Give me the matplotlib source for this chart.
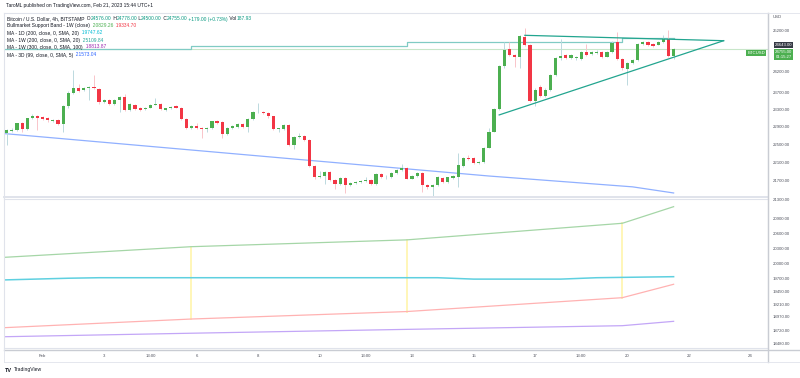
import numpy as np
import pandas as pd
import matplotlib
matplotlib.use('Agg')
import matplotlib.pyplot as plt
from matplotlib.transforms import blended_transform_factory
from matplotlib.ticker import NullLocator

plt.rcParams['font.family'] = ['Liberation Sans', 'DejaVu Sans']

# BTCUSD (Bitstamp) 4h candles, times in UTC+1
start = '2023-01-30 21:00'
opens = [22770, 22810, 22843, 22985, 22850, 23100, 23160, 23125, 23110, 23040,
         23066, 22975, 23388, 23700, 23820, 23770, 23800, 23830, 23790, 23475,
         23528, 23435, 23520, 23600, 23295, 23411, 23340, 23318, 23350, 23411,
         23430, 23295, 23335, 23380, 23350, 23090, 22890, 22930, 22890, 22870,
         22880, 23040, 23020, 22748, 22880, 22910, 22975, 22910, 23080, 23240,
         23258, 23230, 23145, 22850, 22860, 22953, 22501, 22670, 22690, 22613,
         22025, 21795, 21820, 21908, 21728, 21642, 21765, 21620, 21670, 21685,
         21700, 21728, 21642, 21857, 21785, 21795, 21880, 21945, 21995, 21760,
         21810, 21886, 21620, 21570, 21610, 21771, 21692, 21771, 21800, 22040,
         22215, 22200, 22090, 22110, 22435, 22800, 23310, 24330, 24745, 24605,
         24565, 25060, 24850, 23505, 23835, 23622, 23775, 24121, 24520, 24615,
         24525, 24520, 24510, 24675, 24625, 24650, 24680, 24565, 24675, 24935,
         24500, 24265, 24410, 24484, 24876, 24915, 24870, 24860, 24930, 24995,
         24576]
highs = [22850, 22880, 23000, 23020, 23120, 23210, 23190, 23150, 23130, 23090,
         23090, 23420, 23730, 24241, 23900, 23830, 23850, 24121, 23810, 23560,
         23560, 23540, 23610, 23660, 23450, 23440, 23360, 23370, 23430, 23580,
         23450, 23350, 23390, 23400, 23370, 23110, 22950, 23000, 22910, 22900,
         23050, 23060, 23040, 22900, 22940, 22990, 22995, 23100, 23280, 23450,
         23280, 23250, 23165, 22890, 22980, 22975, 22690, 22760, 22720, 22640,
         22050, 21923, 21930, 21930, 21750, 21790, 21790, 21690, 21710, 21730,
         21790, 21750, 21880, 21880, 21830, 21900, 21960, 22070, 22010, 21830,
         21900, 21900, 21640, 21640, 21810, 21800, 21800, 21830, 22310, 22230,
         22275, 22220, 22140, 22460, 22880, 23330, 24360, 24915, 24920, 24640,
         25110, 25270, 24880, 23800, 23870, 23800, 24140, 24550, 25000, 24640,
         24640, 24580, 24700, 24876, 24700, 24720, 24700, 24700, 24940, 25180,
         24520, 24430, 24500, 24900, 24960, 24940, 24890, 24950, 25100, 25225,
         24778]
lows = [22500, 22780, 22820, 22800, 22830, 23080, 22830, 23060, 23020, 23010,
        22950, 22780, 23340, 23680, 23720, 23740, 23528, 23780, 23440, 23450,
        23400, 23410, 23255, 23270, 23270, 23290, 23270, 23300, 23330, 23400,
        23290, 23280, 23320, 23330, 23060, 22870, 22870, 22860, 22650, 22800,
        22860, 22980, 22650, 22720, 22860, 22890, 22890, 22800, 23060, 23220,
        23200, 23120, 22830, 22790, 22840, 22480, 22400, 22650, 22580, 22000,
        21760, 21780, 21640, 21710, 21528, 21620, 21442, 21600, 21650, 21670,
        21680, 21610, 21620, 21770, 21760, 21780, 21860, 21930, 21740, 21740,
        21790, 21480, 21540, 21370, 21590, 21670, 21670, 21750, 21570, 22020,
        22170, 22070, 22070, 22090, 22420, 22780, 23290, 24300, 24580, 24315,
        24290, 24830, 23480, 23390, 23600, 23600, 23750, 24100, 24490, 24500,
        24510, 24490, 24490, 24590, 24610, 24630, 24540, 24550, 24660, 24480,
        24250, 23882, 24390, 24470, 24860, 24830, 24810, 24840, 24910, 24560,
        24500]
closes = [22825, 22836, 22985, 22850, 23100, 23160, 23100, 23080, 23060, 23070,
          22975, 23388, 23700, 23820, 23740, 23810, 23825, 23800, 23475, 23528,
          23435, 23520, 23590, 23295, 23430, 23318, 23295, 23350, 23411, 23435,
          23310, 23335, 23370, 23350, 23090, 22890, 22930, 22880, 22860, 22885,
          23030, 23000, 22748, 22880, 22920, 22975, 22910, 23080, 23255, 23258,
          23220, 23145, 22850, 22875, 22953, 22501, 22673, 22690, 22600, 22025,
          21795, 21820, 21908, 21728, 21642, 21765, 21620, 21670, 21690, 21706,
          21728, 21642, 21857, 21790, 21800, 21886, 21945, 21995, 21760, 21810,
          21886, 21620, 21570, 21620, 21790, 21692, 21785, 21805, 22050, 22210,
          22190, 22090, 22125, 22435, 22800, 23310, 24330, 24728, 24605, 24565,
          25085, 24850, 23505, 23775, 23622, 23775, 24121, 24520, 24570, 24525,
          24600, 24550, 24675, 24605, 24675, 24690, 24565, 24675, 24910, 24500,
          24280, 24410, 24484, 24876, 24935, 24851, 24830, 24935, 24990, 24576,
          24755]

# higher timeframe studies, value at the bars where they change
week_times = ['2023-01-29 21:00', '2023-02-05 21:00', '2023-02-12 21:00',
              '2023-02-19 21:00', '2023-02-21 13:00']
band_upper = [20094, 20338, 20475, 20812, 21155]
band_lower = [18755, 18940, 19080, 19342, 19599]
ma_1w_300 = [18603, 18677, 18748, 18816, 18897]
ma_1w_200 = [24752, 24815, 24916, 25027, 25027]
ma_1d_times = ['2023-01-30 17:00', '2023-02-01 21:00', '2023-02-02 21:00',
               '2023-02-13 21:00', '2023-02-15 01:00', '2023-02-17 21:00',
               '2023-02-19 01:00', '2023-02-21 13:00']
ma_1d = [19682, 19716, 19726, 19726, 19699, 19699, 19726, 19746]
ma_3d_times = ['2023-01-30 17:00', '2023-02-09 05:00', '2023-02-15 13:00',
               '2023-02-20 05:00', '2023-02-21 13:00']
ma_3d = [22760, 22186, 21814, 21580, 21449]

# triangle drawn on the chart
tri_lower_times = ['2023-02-15 21:00', '2023-02-23 04:00']
tri_lower = [23181, 24958]
tri_upper_times = ['2023-02-16 17:00', '2023-02-23 04:00']
tri_upper = [25092, 24958]

top_ticks = [25200, 24200, 23700, 23300, 22900, 22500, 22100, 21700, 21300]
low_ticks = [20900, 20600, 20300, 20000, 19700, 19450, 19210, 18970, 18720, 18480]
x_ticks = [('Feb', '2023-02-01 01:00'), ('3', '2023-02-03 01:00'),
           ('13:00', '2023-02-04 13:00'), ('6', '2023-02-06 01:00'),
           ('8', '2023-02-08 01:00'), ('10', '2023-02-10 01:00'),
           ('13:00', '2023-02-11 13:00'), ('13', '2023-02-13 01:00'),
           ('15', '2023-02-15 01:00'), ('17', '2023-02-17 01:00'),
           ('13:00', '2023-02-18 13:00'), ('20', '2023-02-20 01:00'),
           ('22', '2023-02-22 01:00'), ('24', '2023-02-24 01:00')]

t0 = pd.Timestamp(start)


def bar(ts):
    return (pd.Timestamp(ts) - t0) / pd.Timedelta(hours=4)


def bars(lst):
    return [bar(t) for t in lst]


W, H = 800, 378


def rect(x0, y0, x1, y1):
    return [x0 / W, 1 - y1 / H, (x1 - x0) / W, (y1 - y0) / H]


fig = plt.figure(figsize=(W / 100, H / 100), dpi=100)
ax = fig.add_axes(rect(4, 13, 768, 197.5))
ax2 = fig.add_axes(rect(4, 198.5, 768, 348))

GREEN = '#4caf50'
RED = '#f23645'
GRID = '#e0e3eb'
TXT = '#131722'
AXT = '#50535e'

o = np.array(opens, float)
h = np.array(highs, float)
l = np.array(lows, float)
c = np.array(closes, float)
x = np.arange(len(o))
up = c >= o

# wicks then bodies
ax.vlines(x[up], l[up], h[up], color='#bcd9df', lw=0.7, zorder=2)
ax.vlines(x[~up], l[~up], h[~up], color='#f9c5ca', lw=0.7, zorder=2)
body_lo = np.minimum(o, c)
body_h = np.maximum(np.abs(c - o), 10)
ax.bar(x[up], body_h[up], bottom=body_lo[up], width=0.62, color=GREEN, lw=0, zorder=3)
ax.bar(x[~up], body_h[~up], bottom=body_lo[~up], width=0.62, color=RED, lw=0, zorder=3)

# price line and studies on the price pane
ax.axhline(closes[-1], color='#c8e6c9', lw=0.8, zorder=1)
ax.step(bars(week_times), ma_1w_200, where='post', color='#80cbc4', lw=0.9, zorder=1)
ax.plot(bars(ma_3d_times), ma_3d, color='#90b0ff', lw=0.9, zorder=1)
ax.plot(bars(tri_lower_times), tri_lower, color='#22a58f', lw=0.9, zorder=4)
ax.plot(bars(tri_upper_times), tri_upper, color='#22a58f', lw=0.9, zorder=4)

# lower pane
wx = bars(week_times)
for i in range(1, 4):
    ax2.plot([wx[i], wx[i]], [band_lower[i], band_upper[i]], color='#fff6b8', lw=1.4, zorder=1)
ax2.plot(wx, band_upper, color='#a5d6a7', lw=0.9, zorder=2)
ax2.plot(wx, band_lower, color='#ffb2b2', lw=0.9, zorder=2)
ax2.plot(bars(ma_1d_times), ma_1d, color='#5fd0e0', lw=1.1, zorder=2)
ax2.plot(wx, ma_1w_300, color='#c3a6f7', lw=0.9, zorder=2)

xl = (-0.53, 148.4)
for a in (ax, ax2):
    a.set_xlim(*xl)
    a.set_yscale('log')
    a.set_xticks([])
    a.set_yticks([])
    a.yaxis.set_minor_locator(NullLocator())
    a.xaxis.set_minor_locator(NullLocator())
    for s in a.spines.values():
        s.set_color(GRID)
        s.set_linewidth(0.8)

ax.set_ylim(25200 * np.exp(-(197.5 - 31) / 1005), 25200 * np.exp((31 - 13) / 1005))
ax2.set_ylim(20900 * np.exp(-(348 - 219) / 1015.7), 20900 * np.exp((219 - 198.5) / 1015.7))
ax.spines['bottom'].set_linewidth(1.4)

# right price scale
for a, ticks in ((ax, top_ticks), (ax2, low_ticks)):
    tr = blended_transform_factory(fig.transFigure, a.transData)
    for v in ticks:
        a.text(773 / W, v, f'{v:.2f}', transform=tr, fontsize=3.1, color=AXT,
               va='center', ha='left', clip_on=False)
fig.text(773 / W, 1 - 17 / H, 'USD', fontsize=3.1, color=AXT, va='center')

# time scale
tr = blended_transform_factory(ax2.transData, fig.transFigure)
for lab, ts in x_ticks:
    ax2.text(bar(ts), 1 - 356 / H, lab, transform=tr, fontsize=3.1, color=AXT,
             ha='center', va='center', clip_on=False)

# frame lines of the chart
fig.add_artist(plt.Line2D([768 / W, 768 / W], [1 - 13 / H, 1 - 362 / H], color='#c9ccd3', lw=1.0))
fig.add_artist(plt.Line2D([4 / W, 800 / W], [1 - 349.5 / H, 1 - 349.5 / H], color='#c9ccd3', lw=1.0))
fig.add_artist(plt.Line2D([4 / W, 800 / W], [1 - 362 / H, 1 - 362 / H], color=GRID, lw=0.6))
fig.add_artist(plt.Line2D([4 / W, 800 / W], [1 - 12.5 / H, 1 - 12.5 / H], color=GRID, lw=0.6))
fig.add_artist(plt.Line2D([4 / W, 4 / W], [1 - 12.5 / H, 1 - 362 / H], color=GRID, lw=0.6))

# price labels on the scale
fig.text(783.5 / W, 1 - 44.7 / H, '24643.00', fontsize=3.1, color='white', ha='center', va='center',
         bbox=dict(boxstyle='square,pad=0.25', fc='#363a45', ec='none'))
fig.text(783.5 / W, 1 - 54.5 / H, '24755.00\n01:15:27', fontsize=3.1, color='white', ha='center',
         va='center', linespacing=1.1, bbox=dict(boxstyle='square,pad=0.25', fc=GREEN, ec='none'))
fig.text(756 / W, 1 - 53 / H, 'BTCUSD', fontsize=3.1, color='white', ha='center', va='center',
         bbox=dict(boxstyle='square,pad=0.3', fc=GREEN, ec='none'))

# header and legend
fig.text(6 / W, 1 - 5.5 / H, 'TaroML published on TradingView.com, Feb 21, 2023 15:44 UTC+1',
         fontsize=3.5, color=TXT, va='center')

renderer = fig.canvas.get_renderer()


def legend_row(y, parts):
    # lay the coloured pieces of one legend row side by side on a shared baseline
    xpos = 7
    for s, col in parts:
        t = fig.text(xpos / W, 1 - y / H, s, fontsize=3.5, color=col, va='baseline')
        xpos += t.get_window_extent(renderer).width


LG = '#089981'
legend_row(20.5, [('Bitcoin / U.S. Dollar, 4h, BITSTAMP', TXT), ('  O', TXT), ('24576.00', LG),
                  (' H', TXT), ('24778.00', LG), (' L', TXT), ('24500.00', LG), (' C', TXT),
                  ('24755.00', LG), (' +179.00 (+0.73%)', LG), (' Vol', TXT), ('187.93', LG)])
legend_row(27, [('Bullmarket Support Band - 1W (close)', TXT), ('  20829.26', GREEN),
                ('  19334.70', RED)])
legend_row(34.5, [('MA - 1D (200, close, 0, SMA, 20)', TXT), ('  19747.62', '#00bcd4')])
legend_row(41.8, [('MA - 1W (200, close, 0, SMA, 20)', TXT), ('  25109.84', '#26a69a')])
legend_row(48.5, [('MA - 1W (300, close, 0, SMA, 100)', TXT), ('  18813.87', '#9c27b0')])
legend_row(56.5, [('MA - 3D (99, close, 0, SMA, 5)', TXT), ('  21573.04', '#2962ff')])

# watermark footer
fig.text(5 / W, 1 - 370 / H, 'TV', fontsize=4, color=TXT, weight='bold', va='center')
fig.text(14 / W, 1 - 370 / H, 'TradingView', fontsize=3.6, color=TXT, va='center')

fig.savefig('out.png', dpi=100)
